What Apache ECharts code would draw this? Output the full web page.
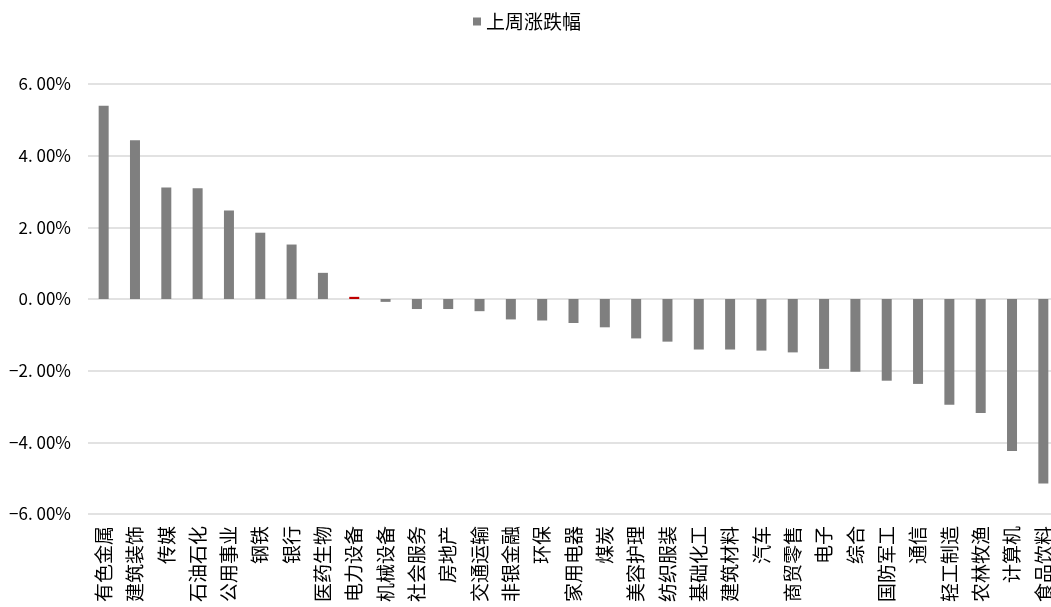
<!DOCTYPE html>
<html>
<head>
<meta charset="utf-8">
<script src="https://cdn.jsdelivr.net/npm/echarts@6/dist/echarts.min.js"></script>
<style>
  html, body { margin: 0; padding: 0; background: #fff; overflow: hidden; }
  /* the plot runs slightly past the right edge of the window */
  #chart { width: 1060px; height: 607px; }
</style>
</head>
<body>
<div id="chart"></div>
<script>
// 行业名称（按上周涨跌幅从高到低排列）
const industries = [
  '有色金属', '建筑装饰', '传媒', '石油石化', '公用事业', '钢铁', '银行', '医药生物',
  '电力设备', '机械设备', '社会服务', '房地产', '交通运输', '非银金融', '环保', '家用电器',
  '煤炭', '美容护理', '纺织服装', '基础化工', '建筑材料', '汽车', '商贸零售', '电子',
  '综合', '国防军工', '通信', '轻工制造', '农林牧渔', '计算机', '食品饮料'
];

// 上周涨跌幅（%）
const weeklyChange = [
  5.39, 4.43, 3.11, 3.09, 2.47, 1.85, 1.52, 0.73,
  0.06, -0.08, -0.28, -0.28, -0.34, -0.57, -0.60, -0.67,
  -0.79, -1.10, -1.19, -1.41, -1.41, -1.44, -1.49, -1.95,
  -2.03, -2.28, -2.37, -2.95, -3.18, -4.24, -5.15
];

// 纵轴刻度
const yTicks = { min: -6, max: 6, step: 2 };

const seriesName = '上周涨跌幅';
const highlightIndustry = '电力设备';

const font = '"Noto Sans CJK SC", "Noto Sans", sans-serif';

const chart = echarts.init(document.getElementById('chart'), null, { renderer: 'canvas' });

chart.setOption({
  animation: false,
  backgroundColor: '#ffffff',
  legend: {
    data: [seriesName],
    top: 7,
    left: 468,
    itemWidth: 8,
    itemHeight: 8,
    itemGap: 6,
    icon: 'rect',
    textStyle: { fontFamily: font, fontSize: 19, color: '#000' }
  },
  grid: {
    left: 88,
    top: 84,
    width: 971,
    bottom: 93,
    containLabel: false
  },
  xAxis: {
    type: 'category',
    data: industries,
    axisLine: { show: false },
    axisTick: { show: false },
    axisLabel: {
      interval: 0,
      rotate: 90,
      margin: 12,
      fontFamily: font,
      fontSize: 19,
      color: '#000'
    }
  },
  yAxis: {
    type: 'value',
    min: yTicks.min,
    max: yTicks.max,
    interval: yTicks.step,
    axisLine: { show: false },
    axisTick: { show: false },
    splitLine: { lineStyle: { color: '#d9d9d9', width: 1.5 } },
    axisLabel: {
      margin: 17,
      fontFamily: font,
      fontSize: 17,
      color: '#000',
      formatter: v => v.toFixed(2).replace('.', '. ').replace('-', '−') + '%'
    }
  },
  series: [{
    name: seriesName,
    type: 'bar',
    barWidth: 10,
    itemStyle: { color: '#7f7f7f' },
    data: weeklyChange.map((v, i) => industries[i] === highlightIndustry
      ? { value: v, itemStyle: { color: '#c00000' } }
      : v)
  }]
});
</script>
</body>
</html>
